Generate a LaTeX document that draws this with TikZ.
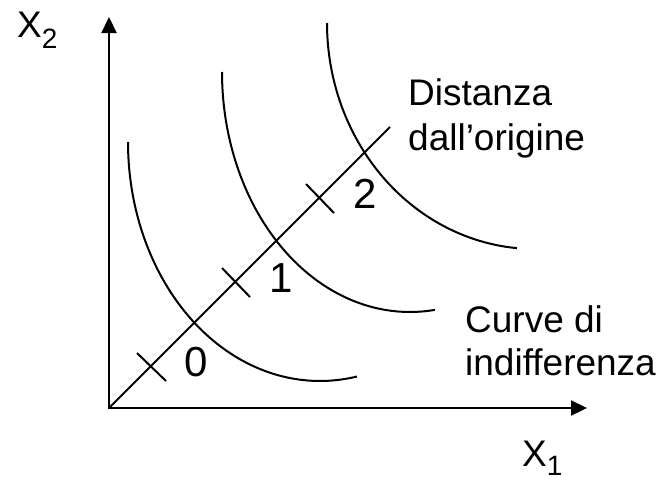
\documentclass[tikz,border=0pt]{standalone}
\usepackage{fontspec}
\setmainfont{Liberation Sans}
\usetikzlibrary{arrows.meta}
\begin{document}
\begin{tikzpicture}[x=1pt,y=-1pt,
  axisline/.style={line width=2.2pt, line join=miter,
    {Triangle[length=16pt,width=15pt]}-{Triangle[length=16pt,width=15pt]}},
  curveline/.style={line width=2pt},
  tickline/.style={line width=2pt},
  lbl/.style={inner sep=0pt, font=\fontsize{37}{44}\selectfont},
  digit/.style={inner sep=0pt, anchor=base, font=\fontsize{42}{50}\selectfont}]
\useasboundingbox (0,0) rectangle (660,479);
% axes
\coordinate (O) at (109,408);
\coordinate (Ytip) at (109,17);
\coordinate (Xtip) at (587,408);
\draw[axisline] (Ytip) -- (O) -- (Xtip);
% diagonal
\coordinate (Dend) at (390,127);
\draw[curveline] (O) -- (Dend);
% ticks
\coordinate (T0a) at (137,353); \coordinate (T0b) at (166,381);
\coordinate (T1a) at (222,268); \coordinate (T1b) at (250,297);
\coordinate (T2a) at (306,184); \coordinate (T2b) at (334,213);
\draw[tickline] (T0a) -- (T0b);
\draw[tickline] (T1a) -- (T1b);
\draw[tickline] (T2a) -- (T2b);
% indifference curves
\draw[curveline] plot[domain=180:78.9, samples=90, smooth] ({320+192*cos(\x)},{142+239*sin(\x)});
\draw[curveline] plot[domain=180:82.4, samples=90, smooth] ({410+188*cos(\x)},{72+240*sin(\x)});
\draw[curveline] plot[domain=180:95, samples=90, smooth] ({535+208*cos(\x)},{23+226*sin(\x)});
% digits
\node[digit] (n0) at (196.5,376) {0};
\node[digit] (n1) at (281.5,292) {1};
\node[digit] (n2) at (365,208) {2};
% labels
\node[lbl, anchor=base west] (dist1) at (408,105) {Distanza};
\node[lbl, anchor=base west] (dist2) at (408,150) {dall’origine};
\node[lbl, anchor=base west] (cur1) at (465,332) {Curve di};
\node[lbl, anchor=base west] (cur2) at (465,375) {indifferenza};
\node[lbl, anchor=base west] (xlab) at (522,466) {X\raisebox{-9pt}{\fontsize{28}{28}\selectfont 1}};
\node[lbl, anchor=base west] (ylab) at (17,37) {X\raisebox{-11pt}{\fontsize{28}{28}\selectfont 2}};
\end{tikzpicture}
\end{document}
